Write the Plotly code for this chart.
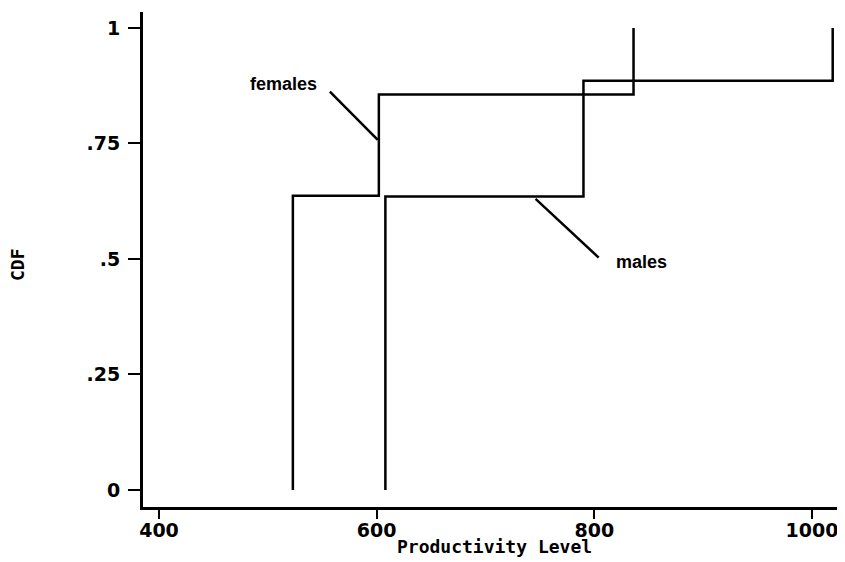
import plotly.graph_objects as go

fem_x = [523, 523, 602, 602, 836, 836]
fem_y = [0, 0.637, 0.637, 0.856, 0.856, 1.0]
male_x = [608, 608, 790, 790, 1019, 1019]
male_y = [0, 0.635, 0.635, 0.886, 0.886, 1.0]

x_ticks = [400, 600, 800, 1000]
x_tick_labels = ["400", "600", "800", "1000"]
y_ticks = [0, 0.25, 0.5, 0.75, 1]
y_tick_labels = ["0", ".25", ".5", ".75", "1"]

# label text, text position, leader line from -> to
labels = [
    ("females", 514, 0.879, (557, 0.862), (601, 0.758)),
    ("males", 843, 0.494, (746, 0.630), (804, 0.503)),
]

fig = go.Figure()
fig.add_trace(go.Scatter(x=fem_x, y=fem_y, mode="lines",
                         line=dict(color="black", width=2.5), name="females"))
fig.add_trace(go.Scatter(x=male_x, y=male_y, mode="lines",
                         line=dict(color="black", width=2.5), name="males"))

for text, tx, ty, p0, p1 in labels:
    fig.add_annotation(x=tx, y=ty, text=text, showarrow=False, xref="x", yref="y",
                       font=dict(family="Liberation Sans", size=18, color="black", weight="bold"))
    fig.add_shape(type="line", x0=p0[0], y0=p0[1], x1=p1[0], y1=p1[1], xref="x", yref="y",
                  line=dict(color="black", width=2.5))

fig.add_annotation(x=0.5, y=-0.079, xref="paper", yref="paper", text="Productivity Level",
                   showarrow=False, yanchor="middle",
                   font=dict(family="DejaVu Sans Mono", size=18, color="black", weight="bold"))
fig.add_annotation(x=-0.178, y=0.489, xref="paper", yref="paper", text="CDF", textangle=-90,
                   showarrow=False, xanchor="center", yanchor="middle",
                   font=dict(family="DejaVu Sans Mono", size=18, color="black", weight="bold"))

tick_font = dict(family="DejaVu Sans", size=19, color="black", weight="bold")
fig.update_layout(
    width=845, height=562,
    margin=dict(l=135, r=8, t=4, b=63),
    paper_bgcolor="white", plot_bgcolor="white",
    showlegend=False,
    xaxis=dict(range=[385.3, 1030.3], tickvals=x_ticks, ticktext=x_tick_labels,
               showgrid=False, zeroline=False, showline=True, linecolor="black", linewidth=3,
               ticks="outside", ticklen=9, tickwidth=2, tickcolor="black",
               tickfont=tick_font, ticklabelstandoff=-5),
    yaxis=dict(range=[-0.0368, 1.0346], tickvals=y_ticks, ticktext=y_tick_labels,
               showgrid=False, zeroline=False, showline=True, linecolor="black", linewidth=3,
               ticks="outside", ticklen=12, tickwidth=2, tickcolor="black",
               tickfont=tick_font, ticklabelstandoff=4),
)

fig.write_html("out.html")
